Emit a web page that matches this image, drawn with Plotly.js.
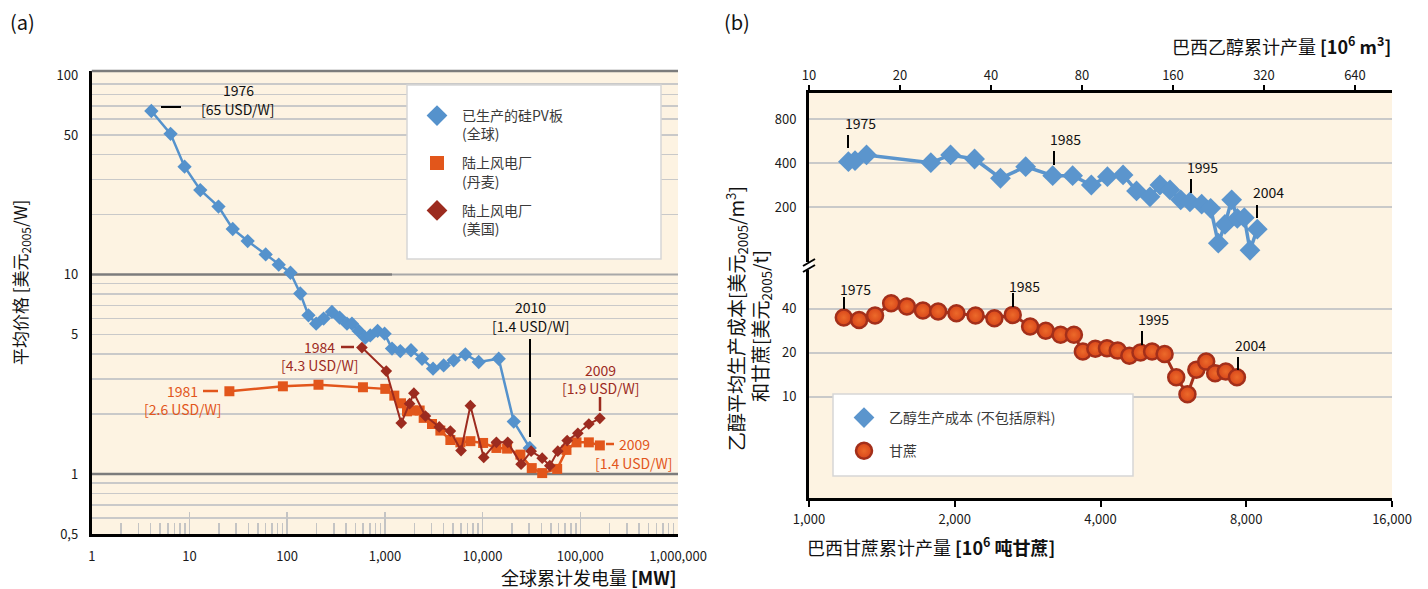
<!DOCTYPE html>
<html>
<head>
<meta charset="utf-8">
<script src="https://cdn.plot.ly/plotly-3.0.1.min.js"></script>
<style>html,body{margin:0;padding:0;background:#fff;}#chart{width:1428px;height:589px;}</style>
</head>
<body>
<div id="chart"></div>
<script>
// ---------- DATA ----------
// (a) Silicon PV modules (global): cumulative MW, USD2005/W
const pvMW = [4.07,6.4,8.9,12.9,19.8,27.7,39.4,60.2,81.9,108,136,165,198,236,287,344,409,460,538,630,708,842,993,1182,1438,1850,2399,3110,3993,5053,6663,9124,14620,20840,30390];
const pvPrice = [66,50.7,34.7,26.5,21.9,16.9,14.7,12.6,11.2,10.2,8.03,6.24,5.67,6.01,6.49,6.08,5.67,5.67,5.21,4.82,4.95,5.21,5.05,4.25,4.13,4.17,3.78,3.37,3.50,3.71,3.98,3.64,3.78,1.83,1.35];
// Onshore wind (Denmark)
const dkMW = [25.6,90.3,209,596,1009,1248,1462,1684,1940,2270,2494,3036,3695,4677,5924,7499,10120,13840,17810,24380,31850,40740,57980,72190,91450,122300,158500];
const dkPrice = [2.60,2.75,2.80,2.72,2.67,2.47,2.26,2.06,2.08,2.08,1.91,1.78,1.65,1.48,1.44,1.46,1.43,1.35,1.34,1.25,1.07,1.01,1.06,1.32,1.44,1.44,1.39];
// Onshore wind (USA)
const usMW = [582,1033,1470,1790,1980,2600,3600,4677,6019,7499,10270,13840,18080,24780,31390,40740,48720,58840,73400,94400,122300,158500];
const usPrice = [4.30,3.28,1.80,2.25,2.54,1.95,1.72,1.64,1.31,2.20,1.21,1.44,1.44,1.12,1.30,1.20,1.10,1.30,1.47,1.60,1.78,1.90];
// (b) Brazil ethanol: cumulative 10^6 m3, USD2005/m3
const ethVol = [13.5,14.2,15.5,25.3,29.4,35.3,43.0,52.1,64.0,74.5,85.9,97.1,109.4,121.2,134.3,144.9,156.4,169.7,182.1,199.1,213.2,226,237.7,250.2,261.2,275.5,287.7,304.1];
const ethCost = [409,416,455,403,455,427,315,378,328,328,283,323,332,258,235,283,262,224,217,209,196,113,152,224,167,169,101,141];
// Brazil sugarcane: cumulative 10^6 t, USD2005/t
const caneTon = [1180,1269,1369,1478,1593,1719,1848,2016,2208,2415,2635,2862,3083,3308,3525,3678,3903,4125,4341,4588,4838,5112,5426,5734,6048,6309,6612,6899,7259,7653];
const caneCost = [34.9,33.6,36.0,43.7,41.5,39.0,38.4,37.3,36.0,34.5,36.4,30.3,28.3,26.6,26.6,20.4,21.3,21.5,20.7,19.1,20.1,20.4,19.6,13.6,10.4,15.3,17.4,14.5,14.9,13.6];

// Tick labels
const aXTicks = [1,10,100,1000,10000,100000,1000000];
const aXText = ['1','10','100','1,000','10,000','100,000','1,000,000'];
const aYTicks = [0.5,1,5,10,50,100];
const aYText = ['0,5','1','5','10','50','100'];
const bYTicks = [10,20,40,200,400,800];
const bXTicks = [1000,2000,4000,8000,16000];
const bXText = ['1,000','2,000','4,000','8,000','16,000'];
const bTopTicks = [10,20,40,80,160,320,640];
const bTopText = ['10','20','40','80','160','320','640'];

// ---------- STYLE ----------
const W = 1428, H = 589;
const fx = p => p / W, fy = p => 1 - p / H;
const FONT = '"Noto Sans CJK SC", "Noto Sans", sans-serif';
const BG = '#fdf3e2';
const GRID = '#c9c9c9';
const cPV = '#5592cc', cDK = '#e2561b', cUS = '#9c2b1f';
const cEth = '#5b95cd', cCaneFill = '#d8461a', cCaneLine = '#a32f1a';

const minorAX = [], minorAY = [];
for (let k = 0; k < 6; k++) for (let m = 2; m <= 9; m++) minorAX.push(m * Math.pow(10, k));
[0.6,0.7,0.8,0.9,2,3,4,5,6,7,8,9,20,30,40,50,60,70,80,90].forEach(v => minorAY.push(v));

const traces = [
  {x: pvMW, y: pvPrice, xaxis:'x', yaxis:'y', mode:'lines+markers', showlegend:false,
   line:{color:cPV, width:2.5}, marker:{symbol:'diamond', size:11, color:cPV}},
  {x: dkMW, y: dkPrice, xaxis:'x', yaxis:'y', mode:'lines+markers', showlegend:false,
   line:{color:cDK, width:2.5}, marker:{symbol:'square', size:10, color:cDK}},
  {x: usMW, y: usPrice, xaxis:'x', yaxis:'y', mode:'lines+markers', showlegend:false,
   line:{color:cUS, width:2}, marker:{symbol:'diamond', size:9, color:cUS}},
  {x: ethVol, y: ethCost, xaxis:'x3', yaxis:'y2', mode:'lines+markers', showlegend:false,
   line:{color:cEth, width:3.5}, marker:{symbol:'diamond', size:16, color:cEth}},
  {x: caneTon, y: caneCost, xaxis:'x2', yaxis:'y2', mode:'lines+markers', showlegend:false,
   line:{color:cCaneLine, width:3}, marker:{symbol:'circle', size:16, color:cCaneFill,
   gradient:{type:'radial', color:'#ec6a2a'}, line:{color:cCaneLine, width:2.5}}},
  // legend entries
  {x:[null], y:[null], xaxis:'x', yaxis:'y', mode:'markers', name:'已生产的硅PV板<br>(全球)', legend:'legend', legendgroup:'a1',
   marker:{symbol:'diamond', size:16, color:cPV}},
  {x:[null], y:[null], xaxis:'x', yaxis:'y', mode:'markers', name:'陆上风电厂<br>(丹麦)', legend:'legend', legendgroup:'a2',
   marker:{symbol:'square', size:14, color:cDK}},
  {x:[null], y:[null], xaxis:'x', yaxis:'y', mode:'markers', name:'陆上风电厂<br>(美国)', legend:'legend', legendgroup:'a3',
   marker:{symbol:'diamond', size:16, color:cUS}},
  {x:[null], y:[null], xaxis:'x2', yaxis:'y2', mode:'markers', name:'乙醇生产成本 (不包括原料)', legend:'legend2', legendgroup:'b1',
   marker:{symbol:'diamond', size:16, color:cEth}},
  {x:[null], y:[null], xaxis:'x2', yaxis:'y2', mode:'markers', name:'甘蔗', legend:'legend2', legendgroup:'b2',
   marker:{symbol:'circle', size:16, color:cCaneFill, gradient:{type:'radial', color:'#ec6a2a'}, line:{color:cCaneLine, width:2.5}}}
];

function ann(text, x, y, opt) {
  return Object.assign({text: text, xref:'paper', yref:'paper', x: fx(x), y: fy(y), showarrow:false,
    xanchor:'center', yanchor:'middle', font:{family:FONT, size:14, color:'#111'}}, opt || {});
}
function seg(x0, y0, x1, y1, color, width) {
  return {type:'line', xref:'paper', yref:'paper', x0:fx(x0), y0:fy(y0), x1:fx(x1), y1:fy(y1),
    line:{color:color, width:width}, layer:'above'};
}

const annotations = [
  ann('(a)', 8, 21, {xanchor:'left', font:{family:FONT, size:20, color:'#111'}}),
  ann('(b)', 722, 21, {xanchor:'left', font:{family:FONT, size:20, color:'#111'}}),
  ann('平均价格 [美元<sub>2005</sub>/W]', 20, 283, {textangle:-90, font:{family:FONT, size:17, color:'#111'}}),
  ann('全球累计发电量 <b>[MW]</b>', 678, 577, {xanchor:'right', font:{family:FONT, size:18, color:'#111'}}),
  ann('巴西乙醇累计产量 <b>[10<sup>6</sup> m<sup>3</sup>]</b>', 1393, 45, {xanchor:'right', font:{family:FONT, size:18, color:'#111'}}),
  ann('巴西甘蔗累计产量 <b>[10<sup>6</sup> 吨甘蔗]</b>', 805, 546, {xanchor:'left', font:{family:FONT, size:18, color:'#111'}}),
  ann('乙醇平均生产成本[美元<sub>2005</sub>/m<sup>3</sup>]', 736, 318, {textangle:-90, font:{family:FONT, size:19, color:'#111'}}),
  ann('和甘蔗[美元<sub>2005</sub>/t]', 761, 326, {textangle:-90, font:{family:FONT, size:19, color:'#111'}}),
  // (a) labels
  ann('1976', 238, 90), ann('[65 USD/W]', 238, 109),
  ann('2010', 530, 307), ann('[1.4 USD/W]', 530, 326),
  ann('1984', 319, 347, {font:{family:FONT, size:14, color:cUS}}),
  ann('[4.3 USD/W]', 319, 365, {font:{family:FONT, size:14, color:cUS}}),
  ann('1981', 182, 391, {font:{family:FONT, size:14, color:cDK}}),
  ann('[2.6 USD/W]', 182, 409, {font:{family:FONT, size:14, color:cDK}}),
  ann('2009', 600, 370, {font:{family:FONT, size:14, color:cUS}}),
  ann('[1.9 USD/W]', 600, 388, {font:{family:FONT, size:14, color:cUS}}),
  ann('2009', 634, 444, {font:{family:FONT, size:14, color:cDK}}),
  ann('[1.4 USD/W]', 633, 463, {font:{family:FONT, size:14, color:cDK}}),
  // (b) labels
  ann('1975', 860, 123), ann('1985', 1065, 139), ann('1995', 1202, 167), ann('2004', 1268, 192),
  ann('1975', 855, 289), ann('1985', 1024, 286), ann('1995', 1153, 319), ann('2004', 1250, 345)
];

const shapes = [
  // darker major gridlines in (a)
  {type:'line', xref:'paper', yref:'y', x0:fx(91.8), x1:fx(678), y0:1, y1:1, line:{color:'#7c7c7c', width:2.5}, layer:'below'},
  {type:'line', xref:'paper', yref:'y', x0:fx(91.8), x1:fx(392), y0:10, y1:10, line:{color:'#7c7c7c', width:2.5}, layer:'below'},
  {type:'line', xref:'paper', yref:'y', x0:fx(392), x1:fx(678), y0:10, y1:10, line:{color:'#a8a8a8', width:2}, layer:'below'},
  {type:'line', xref:'paper', yref:'paper', x0:fx(91.8), x1:fx(678), y0:fy(71), y1:fy(71), line:{color:'#7c7c7c', width:2.5}, layer:'above'},
  // legend boxes
  {type:'rect', xref:'paper', yref:'paper', x0:fx(407), x1:fx(661), y0:fy(259), y1:fy(85),
   fillcolor:'#ffffff', line:{color:'#d6d6d6', width:1.5}, layer:'above'},
  {type:'rect', xref:'paper', yref:'paper', x0:fx(833), x1:fx(1133), y0:fy(476), y1:fy(394),
   fillcolor:'#ffffff', line:{color:'#d6d6d6', width:1.5}, layer:'above'},
  // annotation leader lines (a)
  seg(161, 107, 181, 107, '#000', 2),
  seg(530, 339, 530, 437, '#000', 2),
  seg(341, 347, 354, 347, cUS, 2.5),
  seg(203, 391, 218, 391, cDK, 2.5),
  seg(600, 397, 600, 411, cUS, 2.5),
  seg(606, 444, 614, 444, cDK, 2.5),
  // annotation leader lines (b)
  seg(848, 135, 848, 148, '#000', 2), seg(1054, 151, 1054, 165, '#000', 2),
  seg(1191, 179, 1191, 193, '#000', 2), seg(1257, 205, 1257, 218, '#000', 2),
  seg(844, 297, 844, 309, '#000', 2), seg(1013, 293, 1013, 307, '#000', 2),
  seg(1142, 331, 1142, 345, '#000', 2), seg(1238, 357, 1238, 370, '#000', 2),
  // axis break
  {type:'rect', xref:'paper', yref:'paper', x0:fx(805), x1:fx(813), y0:fy(270), y1:fy(262),
   fillcolor:'#ffffff', line:{width:0}, layer:'above'},
  seg(803, 266, 815, 259, '#000', 2),
  seg(803, 272, 815, 265, '#000', 2)
];

const tickFont = {family:FONT, size:13, color:'#1a1a1a'};

const layout = {
  width: W, height: H,
  margin: {l:0, r:0, t:0, b:0, pad:0},
  paper_bgcolor: '#ffffff',
  plot_bgcolor: BG,
  font: {family: FONT, size: 13, color:'#1a1a1a'},
  xaxis: {type:'log', domain:[fx(91.8), fx(678)], range:[0, 6], anchor:'y',
    tickmode:'array', tickvals:aXTicks, ticktext:aXText, ticks:'inside', ticklen:22, tickwidth:1.5, tickcolor:'#c4c4c4',
    showgrid:false, zeroline:false, showline:true, linecolor:'#000', linewidth:3, tickfont:tickFont, ticklabelstandoff:8,
    minor:{tickmode:'array', tickvals:minorAX, ticks:'inside', ticklen:11, tickwidth:1.5, tickcolor:'#c4c4c4', showgrid:false}},
  yaxis: {type:'log', domain:[fy(534), fy(71)], range:[Math.log10(0.5), 2.02], anchor:'x',
    tickmode:'array', tickvals:aYTicks, ticktext:aYText, ticks:'', showgrid:false,
    zeroline:false, showline:true, linecolor:'#000', linewidth:3, tickfont:tickFont, ticklabelstandoff:8,
    minor:{tickmode:'array', tickvals:minorAY, ticks:'', showgrid:true, gridcolor:GRID, gridwidth:1.5}},
  xaxis2: {type:'log', domain:[fx(809), fx(1392)], range:[3, Math.log10(16000)], anchor:'y2',
    tickmode:'array', tickvals:bXTicks, ticktext:bXText, ticks:'outside', ticklen:6, tickwidth:2, tickcolor:'#000',
    showgrid:false, zeroline:false, showline:true, linecolor:'#000', linewidth:3, tickfont:tickFont, ticklabelstandoff:1},
  xaxis3: {type:'log', overlaying:'x2', side:'top', anchor:'y2', range:[1, Math.log10(848.6)],
    tickmode:'array', tickvals:bTopTicks, ticktext:bTopText, ticks:'outside', ticklen:5, tickwidth:2, tickcolor:'#000',
    showgrid:false, zeroline:false, showline:true, linecolor:'#000', linewidth:3, tickfont:tickFont, ticklabelstandoff:0},
  yaxis2: {type:'log', domain:[fy(498), fy(93)], range:[0.305, 3.083], anchor:'x2',
    tickmode:'array', tickvals:bYTicks, ticks:'', showgrid:true, gridcolor:GRID, gridwidth:2,
    zeroline:false, showline:true, linecolor:'#000', linewidth:3, tickfont:tickFont, ticklabelstandoff:7},
  legend: {x:fx(412), y:fy(100), xanchor:'left', yanchor:'top', bgcolor:'rgba(0,0,0,0)', borderwidth:0,
    traceorder:'grouped', tracegroupgap:8, valign:'top', itemwidth:40,
    font:{family:FONT, size:14, color:'#3a3a3a'}},
  legend2: {x:fx(839), y:fy(402), xanchor:'left', yanchor:'top', bgcolor:'rgba(0,0,0,0)', borderwidth:0,
    traceorder:'grouped', tracegroupgap:12, itemwidth:40,
    font:{family:FONT, size:14, color:'#3a3a3a'}},
  annotations: annotations,
  shapes: shapes
};

Plotly.newPlot('chart', traces, layout, {displayModeBar:false, responsive:false, staticPlot:true});
</script>
</body>
</html>
